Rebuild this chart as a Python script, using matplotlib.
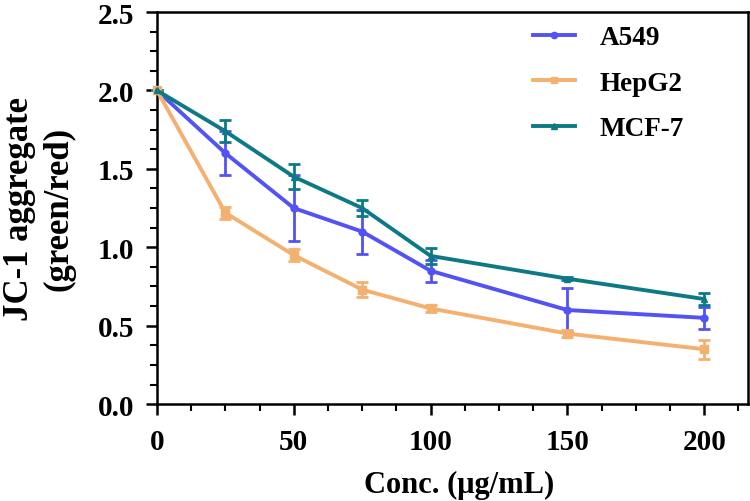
import matplotlib
matplotlib.use("Agg")
import matplotlib.pyplot as plt
from matplotlib.ticker import MultipleLocator
from matplotlib.lines import Line2D

conc = [0, 25, 50, 75, 100, 150, 200]
a549 = [2.0, 1.60, 1.25, 1.10, 0.85, 0.60, 0.55]
a549_err = [0.0, 0.14, 0.21, 0.14, 0.07, 0.14, 0.07]
hepg2 = [2.0, 1.22, 0.95, 0.73, 0.61, 0.45, 0.35]
hepg2_err = [0.0, 0.04, 0.04, 0.05, 0.02, 0.02, 0.06]
mcf7 = [2.0, 1.74, 1.45, 1.25, 0.945, 0.80, 0.67]
mcf7_err = [0.0, 0.07, 0.08, 0.05, 0.05, 0.01, 0.04]

plt.rcParams['font.family'] = ['Liberation Serif', 'DejaVu Serif']
plt.rcParams['font.weight'] = 'bold'

fig = plt.figure(figsize=(7.5, 5.02), dpi=100)
ax = fig.add_axes([0.2093, 0.193, 0.788, 0.781])

series = [
    ("A549", a549, a549_err, "#5252f5", "o", 5),
    ("HepG2", hepg2, hepg2_err, "#f4b06f", "s", 5.5),
    ("MCF-7", mcf7, mcf7_err, "#0c7a86", "^", 5),
]
handles = []
for name, y, e, c, m, ms in series:
    ax.errorbar(conc, y, yerr=e, color=c, marker=m, markersize=ms, lw=2.8,
                elinewidth=2, capsize=4, capthick=2, clip_on=False, zorder=3)
    handles.append(Line2D([], [], color=c, marker=m, markersize=ms * 0.9, lw=2.8, label=name))

ax.set_xlim(0, 216)
ax.set_ylim(0, 2.5)
ax.xaxis.set_major_locator(MultipleLocator(50))
ax.xaxis.set_minor_locator(MultipleLocator(12.5))
ax.yaxis.set_minor_locator(MultipleLocator(0.125))
ax.set_yticks([0, 0.5, 1.0, 1.5, 2.0, 2.5])
ax.set_yticklabels(["0.0", "0.5", "1.0", "1.5", "2.0", "2.5"])

for s in ax.spines.values():
    s.set_linewidth(1.8)
ax.tick_params(axis='both', which='major', length=8, width=1.8, labelsize=21, direction='out')
ax.tick_params(axis='both', which='minor', length=5, width=1.5, direction='out')
ax.tick_params(axis='y', which='major', pad=8.5)
ax.tick_params(axis='x', which='major', pad=9.5)

ax.set_xlabel("Conc. (\u03bcg/mL)", fontsize=22, fontweight='bold')
ax.xaxis.set_label_coords(0.511, -0.167)
ax.set_ylabel("JC-1 aggregate\n(green/red)", fontsize=25, fontweight='bold', labelpad=16, linespacing=1.25)

leg = fig.legend(handles=handles, loc='upper left', bbox_to_anchor=(533 / 750, 1 - 26 / 502),
                 frameon=False, fontsize=19.5, handlelength=1.55, labelspacing=0.76,
                 handletextpad=0.9, borderpad=0, borderaxespad=0)

fig.savefig("out.png", dpi=100)
